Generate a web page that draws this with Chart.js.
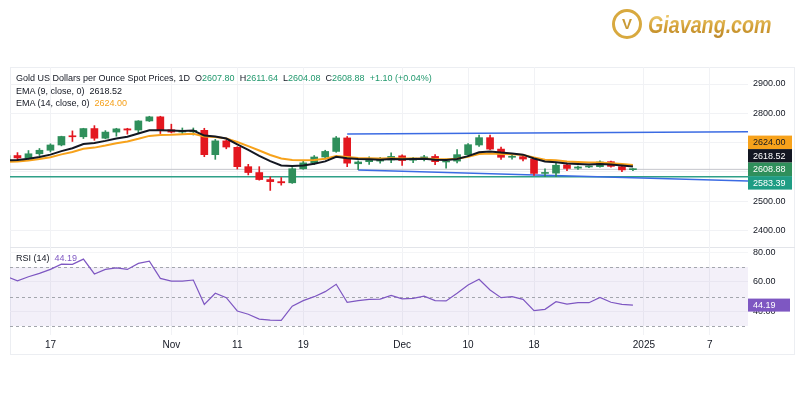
<!DOCTYPE html>
<html>
<head>
<meta charset="utf-8">
<script src="https://cdn.jsdelivr.net/npm/chart.js@4.4.1/dist/chart.umd.min.js"></script>
<style>
  html, body { margin: 0; padding: 0; background: #fff; }
  #wrap { position: relative; width: 800px; height: 400px; overflow: hidden; font-family: "Liberation Sans", Arial, sans-serif; }
  canvas { position: absolute; left: 0; top: 0; }
  .frame { position: absolute; left: 10px; top: 67px; width: 785px; height: 288px; border: 1px solid #eceef2; box-sizing: border-box; }
  .sep { position: absolute; left: 10px; top: 247px; width: 785px; height: 1px; background: #e3e5ea; }
  .leg { position: absolute; left: 16px; font-size: 9px; line-height: 11px; color: #131722; white-space: pre; z-index: 3; }
  .g { color: #22996e; }
  .o { color: #f5a01a; }
  .p { color: #7e57c2; }
  #logo { position: absolute; left: 612px; top: 9px; height: 32px; z-index: 3; }
  #logo .ring { position: absolute; left: 0; top: 0; width: 24px; height: 24px; border: 3px solid #d8a93f; border-radius: 50%;
    font: bold 15px "Liberation Sans", Arial, sans-serif; color: #c99a35; text-align: center; line-height: 24px; }
  #logo .brand { position: absolute; left: 36px; top: 2px; font: italic bold 24px "Liberation Sans", Arial, sans-serif;
    transform: scaleX(0.82); transform-origin: left top; white-space: nowrap;
    background: linear-gradient(#f5d77e, #d19d33 60%, #b9862a); -webkit-background-clip: text; background-clip: text; color: transparent; }
</style>
</head>
<body>
<div id="wrap">
  <div id="logo"><div class="ring">V</div><div class="brand">Giavang.com</div></div>
  <div class="frame"></div>
  <div class="sep"></div>
  <canvas id="price" width="800" height="400"></canvas>
  <canvas id="rsi" width="800" height="400"></canvas>
  <div class="leg" style="top:73px">Gold US Dollars per Ounce Spot Prices, 1D  O<span class="g">2607.80</span>  H<span class="g">2611.64</span>  L<span class="g">2604.08</span>  C<span class="g">2608.88</span>  <span class="g">+1.10 (+0.04%)</span></div>
  <div class="leg" style="top:86px">EMA (9, close, 0)  2618.52</div>
  <div class="leg" style="top:98px">EMA (14, close, 0)  <span class="o">2624.00</span></div>
  <div class="leg" style="top:253px">RSI (14)  <span class="p">44.19</span></div>
</div>
<script>
// daily bars, Oct 11 .. Dec 31 2024
const dates = ['Oct 11','Oct 14','Oct 15','Oct 16','Oct 17','Oct 18','Oct 21','Oct 22','Oct 23','Oct 24','Oct 25',
  'Oct 28','Oct 29','Oct 30','Oct 31','Nov 1','Nov 4','Nov 5','Nov 6','Nov 7','Nov 8','Nov 11','Nov 12','Nov 13',
  'Nov 14','Nov 15','Nov 18','Nov 19','Nov 20','Nov 21','Nov 22','Nov 25','Nov 26','Nov 27','Nov 28','Nov 29',
  'Dec 2','Dec 3','Dec 4','Dec 5','Dec 6','Dec 9','Dec 10','Dec 11','Dec 12','Dec 13','Dec 16','Dec 17','Dec 18',
  'Dec 19','Dec 20','Dec 23','Dec 24','Dec 25','Dec 26','Dec 27','Dec 30','Dec 31'];

const opens  = [2636,2656,2648,2662,2674,2692,2721,2720,2748,2715,2736,2747,2743,2774,2788,2744,2736,2737,2742,2659,
  2706,2684,2618,2598,2574,2567,2563,2611,2631,2651,2670,2716,2628,2635,2637,2641,2655,2640,2648,2653,2634,2637,
  2659,2692,2717,2678,2650,2652,2644,2595,2596,2624,2613,2617,2618,2635,2618,2607.80];
const highs  = [2661,2666,2673,2680,2696,2722,2740,2749,2758,2741,2749,2749,2775,2790,2790,2763,2750,2750,2749,2711,
  2709,2686,2626,2618,2583,2581,2615,2639,2656,2674,2721,2721,2638,2652,2650,2665,2658,2650,2657,2659,2644,2676,
  2697,2726,2726,2685,2663,2657,2650,2611,2632,2630,2620,2620,2638,2637,2622,2611.64];
const lows   = [2625,2637,2643,2656,2668,2689,2704,2714,2708,2713,2722,2729,2732,2772,2731,2733,2729,2726,2652,2643,
  2679,2610,2590,2572,2537,2555,2561,2609,2625,2644,2667,2618,2608,2626,2630,2632,2622,2632,2638,2625,2613,2631,
  2655,2687,2676,2643,2644,2638,2588,2584,2584,2604,2609,2615,2616,2616,2601,2604.08];
const closes = [2656,2648,2662,2674,2692,2721,2720,2748,2715,2736,2747,2743,2774,2788,2743,2736,2737,2742,2659,2706,
  2685,2618,2598,2574,2567,2563,2611,2631,2651,2670,2716,2630,2634,2643,2641,2653,2639,2647,2651,2635,2637,2659,
  2693,2717,2678,2650,2653,2644,2595,2598,2623,2612,2617,2618,2634,2619,2607,2608.88];

const ema9  = [2639,2641,2645,2651,2659,2671,2681,2695,2699,2706,2714,2720,2731,2742,2742,2741,2740,2741,2724,2721,
  2714,2694,2675,2655,2637,2622,2620,2622,2628,2636,2652,2647,2644,2643,2642,2644,2643,2644,2645,2642,2641,2644,
  2654,2667,2670,2666,2663,2659,2646,2636,2633,2629,2627,2625,2627,2625,2622,2618.52];
const ema14 = [2634,2636,2639,2644,2650,2660,2668,2679,2683,2690,2698,2704,2713,2723,2726,2727,2729,2730,2721,2719,
  2714,2702,2688,2673,2658,2646,2641,2640,2641,2645,2654,2651,2648,2647,2646,2647,2646,2646,2646,2644,2643,2645,
  2652,2661,2663,2661,2660,2658,2649,2642,2640,2636,2634,2632,2632,2630,2627,2624.00];
const rsi14 = [63.5,60.7,63.4,65.7,68.4,72.0,71.8,75.4,65.3,68.4,69.5,68.4,72.5,74.0,62.3,60.5,60.5,61.2,44.7,52.2,
  49.2,40.2,38.0,34.7,34.0,33.8,43.5,47.2,49.9,53.3,58.3,46.1,47.2,48.1,48.3,50.8,48.4,48.8,50.3,47.2,47.0,52.2,
  57.8,61.7,54.4,49.2,49.9,48.1,40.4,41.3,46.5,44.9,45.8,45.8,49.4,46.1,44.7,44.19];

// time axis labels (bar positions, incl. future bars)
const tickPos  = [4, 15, 21, 27, 36, 42, 48, 58, 64];
const tickText = ['17', 'Nov', '11', '19', 'Dec', '10', '18', '2025', '7'];
const priceTicks = [2400, 2500, 2600, 2700, 2800, 2900];
const rsiTicks = [40, 60, 80];

// drawings
const upperLineX = [31, 67.47], upperLineY = [2729.6, 2737.4];
const lowerLineX = [32, 67.47], lowerLineY = [2606.9, 2569.4];
const supportLevel = 2583.39;

// right axis price tags, top to bottom
const tagValues = [2624.00, 2618.52, 2608.88, 2583.39];
const tagBg = ['#f7a21b', '#131722', '#2f8f5b', '#1f9d84'];
const tagFg = ['#131722', '#ffffff', '#ffffff', '#ffffff'];
const lastClose = 2608.88;
const lastRsi = 44.19;

const X_MIN = 0.32, X_MAX = 67.47;
const FONT = '"Liberation Sans", Arial, sans-serif';
const GREEN = '#2f8f5b', RED = '#e3171f';
Chart.defaults.font.family = FONT;

const xs = closes.map((c, i) => i);
const candleColors = closes.map((c, i) => c >= opens[i] ? GREEN : RED);
const pts = (arr) => xs.map((x, i) => ({ x, y: arr[i] }));
const setTicks = (list) => (scale) => { scale.ticks = list.map(v => ({ value: v })); };

const priceTags = {
  id: 'priceTags',
  afterDraw(chart) {
    const { ctx, chartArea, scales: { y } } = chart;
    const h = 13.5;
    const anchorIdx = tagValues.indexOf(lastClose);
    const ys = tagValues.map(v => y.getPixelForValue(v));
    for (let i = anchorIdx - 1; i >= 0; i--) ys[i] = Math.min(ys[i], ys[i + 1] - h);
    for (let i = anchorIdx + 1; i < ys.length; i++) ys[i] = Math.max(ys[i], ys[i - 1] + h);
    ctx.save();
    ctx.font = '9px ' + FONT;
    ctx.textBaseline = 'middle';
    tagValues.forEach((v, i) => {
      ctx.fillStyle = tagBg[i];
      ctx.fillRect(chartArea.right, ys[i] - h / 2, 44, h);
      ctx.fillStyle = tagFg[i];
      ctx.fillText(v.toFixed(2), chartArea.right + 5, ys[i] + 0.5);
    });
    ctx.restore();
  }
};

new Chart(document.getElementById('price'), {
  type: 'bar',
  data: {
    labels: dates,
    datasets: [
      { type: 'line', label: 'EMA 9', data: pts(ema9), borderColor: '#131722', borderWidth: 2, pointRadius: 0, order: 0 },
      { type: 'line', label: 'EMA 14', data: pts(ema14), borderColor: '#f7a21b', borderWidth: 2, pointRadius: 0, order: 1 },
      { label: 'body', data: xs.map((x, i) => ({ x, y: [opens[i], closes[i]] })), backgroundColor: candleColors,
        barThickness: 7, grouped: false, minBarLength: 1, order: 2 },
      { label: 'wick', data: xs.map((x, i) => ({ x, y: [lows[i], highs[i]] })), backgroundColor: candleColors,
        barThickness: 1, grouped: false, order: 3 },
      { type: 'line', data: upperLineX.map((x, i) => ({ x, y: upperLineY[i] })), borderColor: '#3b6be3', borderWidth: 1.5, pointRadius: 0, order: 5 },
      { type: 'line', data: lowerLineX.map((x, i) => ({ x, y: lowerLineY[i] })), borderColor: '#3b6be3', borderWidth: 1.5, pointRadius: 0, order: 5 },
      { type: 'line', data: [{ x: X_MIN, y: supportLevel }, { x: X_MAX, y: supportLevel }], borderColor: '#2fa088', borderWidth: 1.5, pointRadius: 0, order: 6 },
      { type: 'line', data: [{ x: X_MIN, y: lastClose }, { x: X_MAX, y: lastClose }], borderColor: '#c4c6cc', borderWidth: 1, pointRadius: 0, order: 7 }
    ]
  },
  options: {
    responsive: false, animation: false, devicePixelRatio: 1,
    layout: { padding: { left: 10, top: 67, right: 0, bottom: 153 } },
    plugins: { legend: { display: false }, tooltip: { enabled: false } },
    scales: {
      x: { type: 'linear', min: X_MIN, max: X_MAX, offset: false, afterBuildTicks: setTicks(tickPos),
        ticks: { display: false }, grid: { color: '#f1f2f5', drawTicks: false, offset: false }, border: { display: false },
        afterFit: (s) => { s.height = 0; } },
      y: { position: 'right', min: 2344, max: 2958, afterBuildTicks: setTicks(priceTicks),
        ticks: { padding: 5, color: '#131722', font: { size: 9 }, callback: (v) => v.toFixed(2) },
        grid: { color: '#f1f2f5', drawTicks: false }, border: { display: false },
        afterFit: (s) => { s.width = 52; } }
    }
  },
  plugins: [priceTags]
});

const rsiBand = {
  id: 'rsiBand',
  beforeDatasetsDraw(chart) {
    const { ctx, chartArea: a, scales: { y } } = chart;
    ctx.save();
    ctx.fillStyle = 'rgba(126,87,194,0.09)';
    ctx.fillRect(a.left, y.getPixelForValue(70), a.right - a.left, y.getPixelForValue(30) - y.getPixelForValue(70));
    ctx.strokeStyle = '#a3a6ad';
    ctx.lineWidth = 1;
    ctx.setLineDash([3, 3]);
    [70, 50, 30].forEach(v => {
      const py = Math.round(y.getPixelForValue(v)) + 0.5;
      ctx.beginPath(); ctx.moveTo(a.left, py); ctx.lineTo(a.right, py); ctx.stroke();
    });
    ctx.restore();
  },
  afterDraw(chart) {
    const { ctx, chartArea: a, scales: { y } } = chart;
    const py = y.getPixelForValue(lastRsi);
    ctx.save();
    ctx.fillStyle = '#7e57c2';
    ctx.fillRect(a.right, py - 6.5, 42, 13);
    ctx.fillStyle = '#fff';
    ctx.font = '9px ' + FONT;
    ctx.textBaseline = 'middle';
    ctx.fillText(lastRsi.toFixed(2), a.right + 5, py + 0.5);
    ctx.restore();
  }
};

new Chart(document.getElementById('rsi'), {
  type: 'line',
  data: { datasets: [{ label: 'RSI', data: pts(rsi14), borderColor: '#7e57c2', borderWidth: 1.2, pointRadius: 0 }] },
  options: {
    responsive: false, animation: false, devicePixelRatio: 1,
    layout: { padding: { left: 10, top: 247, right: 0, bottom: 45 } },
    plugins: { legend: { display: false }, tooltip: { enabled: false } },
    scales: {
      x: { type: 'linear', min: X_MIN, max: X_MAX, afterBuildTicks: setTicks(tickPos),
        ticks: { color: '#131722', font: { size: 10 }, padding: 4, maxRotation: 0, autoSkip: false,
          callback: (v) => tickText[tickPos.indexOf(v)] },
        grid: { color: '#f1f2f5', drawTicks: false }, border: { display: false },
        afterFit: (s) => { s.height = 20; } },
      y: { position: 'right', min: 23.9, max: 83.6, afterBuildTicks: setTicks(rsiTicks),
        ticks: { padding: 5, color: '#131722', font: { size: 9 }, callback: (v) => v.toFixed(2) },
        grid: { color: '#f4f5f7', drawTicks: false }, border: { display: false },
        afterFit: (s) => { s.width = 52; } }
    }
  },
  plugins: [rsiBand]
});
</script>
</body>
</html>
